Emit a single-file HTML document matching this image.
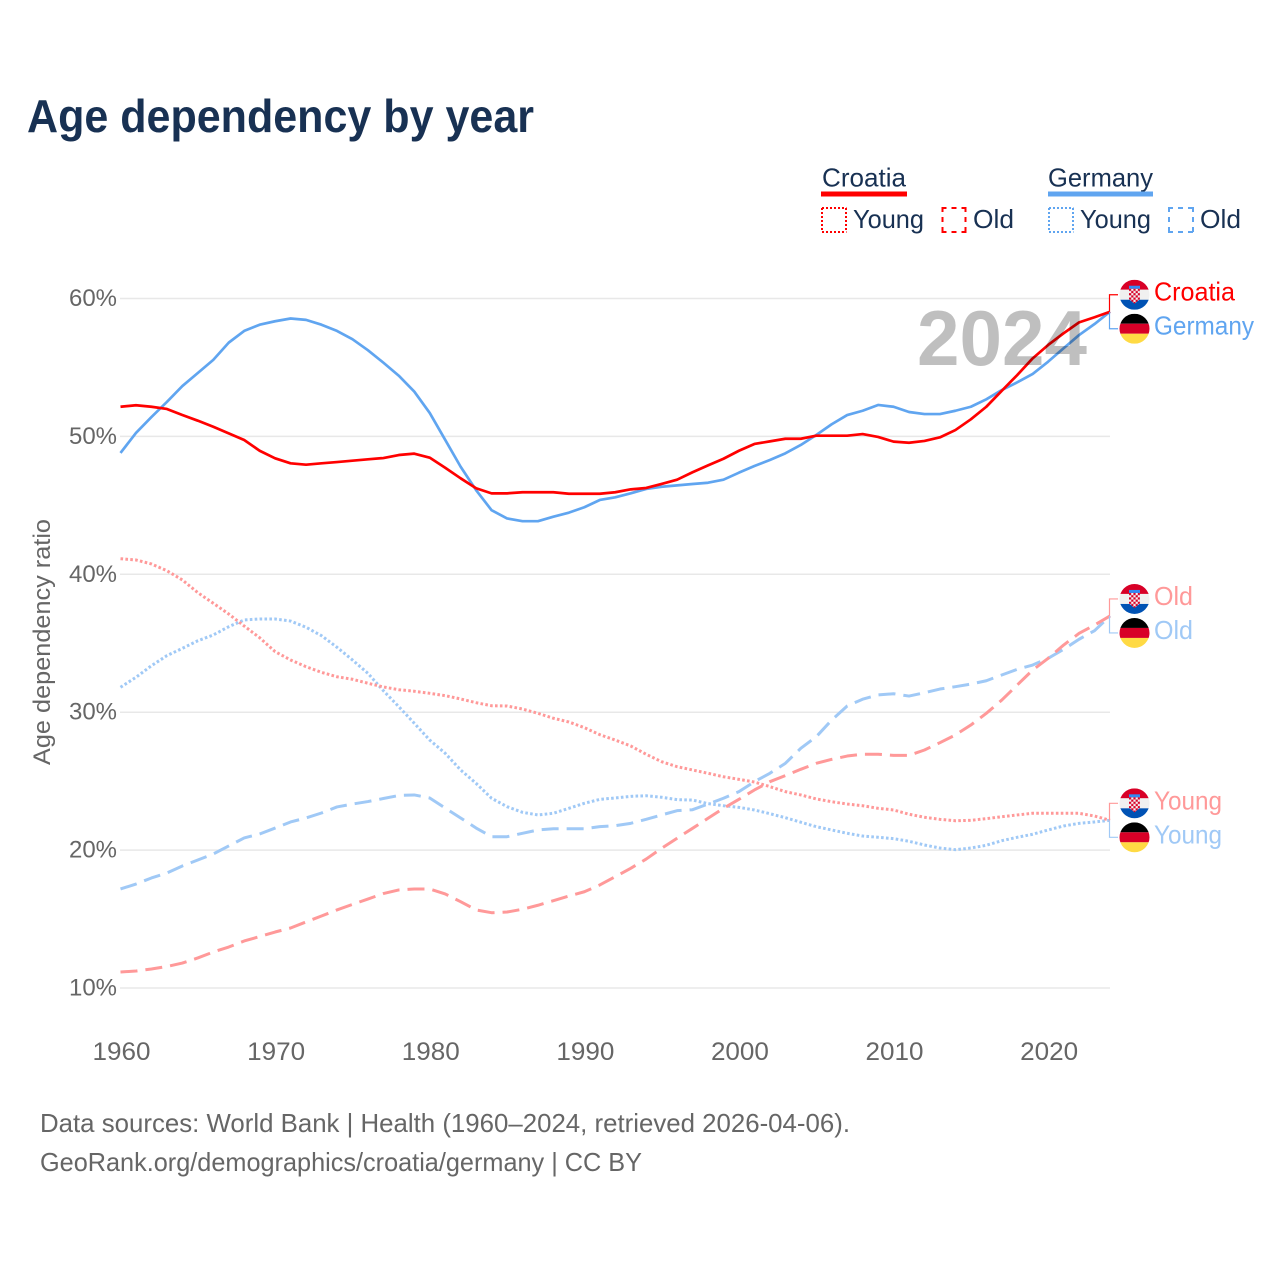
<!DOCTYPE html>
<html lang="en">
<head>
<meta charset="utf-8">
<title>Age dependency by year</title>
<style>
html,body{margin:0;padding:0;background:#fff;}
svg{display:block;font-family:"Liberation Sans",Arial,sans-serif;}
</style>
</head>
<body>
<svg id="chart" xmlns="http://www.w3.org/2000/svg" width="1280" height="1280" viewBox="0 0 1280 1280">
  <defs>
    <clipPath id="flag-clip"><circle cx="0" cy="0" r="15"></circle></clipPath>
    <pattern id="checker" x="-5.5" y="-6" width="4.4" height="4.4" patternUnits="userSpaceOnUse">
      <rect width="4.4" height="4.4" fill="#f4f4f4"></rect>
      <rect width="2.2" height="2.2" fill="#d80027"></rect>
      <rect x="2.2" y="2.2" width="2.2" height="2.2" fill="#d80027"></rect>
    </pattern>
    <symbol id="flag-croatia" viewBox="-15 -15 30 30" overflow="visible">
      <g clip-path="url(#flag-clip)">
        <rect x="-15" y="-15" width="30" height="10" fill="#d80027"></rect>
        <rect x="-15" y="-5" width="30" height="10" fill="#f0f0f0"></rect>
        <rect x="-15" y="5" width="30" height="10" fill="#0052b4"></rect>
        <rect x="-5.5" y="-9" width="11" height="3" fill="#338af3"></rect>
        <path d="M-5.5,-6H5.5V4.5L0,9L-5.5,4.5Z" fill="url(#checker)"></path>
      </g>
    </symbol>
    <symbol id="flag-germany" viewBox="-15 -15 30 30" overflow="visible">
      <g clip-path="url(#flag-clip)">
        <rect x="-15" y="-15" width="30" height="10" fill="#000000"></rect>
        <rect x="-15" y="-5" width="30" height="10" fill="#d80027"></rect>
        <rect x="-15" y="5" width="30" height="10" fill="#ffda44"></rect>
      </g>
    </symbol>
  </defs>

  <text x="27" y="132" font-size="46" font-weight="700" fill="#183153" textLength="507" lengthAdjust="spacingAndGlyphs">Age dependency by year</text>

  <g>
    <g>
      <text x="822" y="186.5" font-size="26" fill="#183153" textLength="84" lengthAdjust="spacingAndGlyphs">Croatia</text>
      <rect x="821" y="191.5" width="86" height="5" fill="#ff0000"></rect>
    </g>
    <g>
      <path d="M822,208H846.5M822,232H846.5M822,208V232M846,208V232" fill="none" stroke="#ff0000" stroke-width="2" stroke-dasharray="2 2"></path>
      <text x="853" y="228" font-size="26" fill="#183153" textLength="71" lengthAdjust="spacingAndGlyphs">Young</text>
    </g>
    <g>
      <path d="M941.5,208H966.5M941.5,232H966.5M942.5,207V233M965.5,207V233" fill="none" stroke="#ff0000" stroke-width="2" stroke-dasharray="5 5"></path>
      <text x="973" y="228" font-size="26" fill="#183153" textLength="41" lengthAdjust="spacingAndGlyphs">Old</text>
    </g>
    <g>
      <text x="1048" y="186.5" font-size="26" fill="#183153" textLength="105" lengthAdjust="spacingAndGlyphs">Germany</text>
      <rect x="1048" y="191.5" width="105" height="5" fill="#60a5f0"></rect>
    </g>
    <g>
      <path d="M1049,208H1073.5M1049,232H1073.5M1049,208V232M1073,208V232" fill="none" stroke="#60a5f0" stroke-width="2" stroke-dasharray="2 2"></path>
      <text x="1080" y="228" font-size="26" fill="#183153" textLength="71" lengthAdjust="spacingAndGlyphs">Young</text>
    </g>
    <g>
      <path d="M1168,208H1193.5M1168,232H1193.5M1169,207V233M1193,207V233" fill="none" stroke="#60a5f0" stroke-width="2" stroke-dasharray="5 5"></path>
      <text x="1200" y="228" font-size="26" fill="#183153" textLength="41" lengthAdjust="spacingAndGlyphs">Old</text>
    </g>
  </g>

  <g id="grid"></g>
  <g id="yticks"></g>
  <g id="xticks"></g>
  <text transform="translate(50,765) rotate(-90)" x="0" y="0" font-size="24" fill="#666666" textLength="246" lengthAdjust="spacingAndGlyphs">Age dependency ratio</text>

  <g id="series"></g>
  <g id="endlabels"></g>

  <text x="917" y="365" font-size="78" font-weight="700" fill="#000000" fill-opacity="0.25" textLength="170" lengthAdjust="spacingAndGlyphs">2024</text>

  <text x="40" y="1132" font-size="26" fill="#666666" textLength="810" lengthAdjust="spacingAndGlyphs">Data sources: World Bank | Health (1960–2024, retrieved 2026-04-06).</text>
  <text x="40" y="1171" font-size="26" fill="#666666" textLength="602" lengthAdjust="spacingAndGlyphs">GeoRank.org/demographics/croatia/germany | CC BY</text>
</svg>

<script>
const years = [1960,1961,1962,1963,1964,1965,1966,1967,1968,1969,
  1970,1971,1972,1973,1974,1975,1976,1977,1978,1979,
  1980,1981,1982,1983,1984,1985,1986,1987,1988,1989,
  1990,1991,1992,1993,1994,1995,1996,1997,1998,1999,
  2000,2001,2002,2003,2004,2005,2006,2007,2008,2009,
  2010,2011,2012,2013,2014,2015,2016,2017,2018,2019,
  2020,2021,2022,2023,2024];

const croatiaTotal = [52.15,52.26,52.15,51.99,51.55,51.14,50.7,50.22,49.74,48.96,
  48.41,48.05,47.95,48.05,48.14,48.24,48.34,48.43,48.65,48.75,
  48.46,47.73,46.96,46.24,45.87,45.87,45.95,45.95,45.95,45.84,
  45.84,45.84,45.95,46.16,46.26,46.55,46.86,47.4,47.9,48.38,
  48.96,49.45,49.64,49.83,49.83,50.05,50.05,50.05,50.17,49.96,
  49.62,49.54,49.67,49.93,50.46,51.24,52.15,53.31,54.45,55.66,
  56.63,57.48,58.27,58.64,59.04];

const germanyTotal = [48.8,50.25,51.4,52.5,53.65,54.6,55.55,56.8,57.65,58.1,
  58.35,58.55,58.45,58.1,57.65,57.05,56.25,55.35,54.4,53.25,
  51.7,49.75,47.8,46.1,44.65,44.05,43.85,43.85,44.18,44.47,
  44.86,45.39,45.58,45.87,46.19,46.35,46.45,46.55,46.64,46.86,
  47.37,47.85,48.29,48.77,49.38,50.1,50.88,51.55,51.86,52.28,
  52.15,51.77,51.62,51.62,51.86,52.15,52.69,53.36,53.92,54.53,
  55.42,56.39,57.35,58.15,59.04];

const croatiaYoung = [41.13,41.04,40.75,40.26,39.59,38.67,37.9,37.12,36.25,35.4,
  34.39,33.79,33.3,32.89,32.57,32.39,32.1,31.83,31.63,31.52,
  31.37,31.2,30.96,30.69,30.47,30.45,30.23,29.92,29.56,29.29,
  28.88,28.37,27.98,27.55,26.95,26.41,26.05,25.81,25.57,25.32,
  25.13,24.94,24.6,24.24,24,23.71,23.51,23.34,23.22,23.03,
  22.91,22.6,22.38,22.23,22.13,22.16,22.28,22.42,22.55,22.67,
  22.67,22.67,22.67,22.47,22.16];

const germanyYoung = [31.81,32.53,33.37,34.1,34.63,35.18,35.6,36.2,36.69,36.76,
  36.76,36.61,36.16,35.55,34.71,33.79,32.82,31.56,30.4,29.2,
  27.98,27.02,25.81,24.84,23.76,23.15,22.74,22.55,22.67,23.03,
  23.39,23.68,23.78,23.9,23.94,23.83,23.66,23.63,23.37,23.22,
  23.1,22.91,22.64,22.35,22.02,21.7,21.46,21.22,21.02,20.93,
  20.83,20.64,20.37,20.15,20.03,20.15,20.35,20.68,20.93,21.15,
  21.46,21.75,21.94,22.04,22.16];

const croatiaOld = [11.16,11.23,11.38,11.56,11.81,12.18,12.61,12.97,13.41,13.73,
  14.06,14.35,14.79,15.22,15.66,16.06,16.45,16.85,17.11,17.18,
  17.18,16.82,16.26,15.66,15.46,15.51,15.71,16,16.33,16.67,
  16.98,17.47,18.07,18.68,19.35,20.13,20.86,21.58,22.31,23.03,
  23.68,24.36,24.96,25.4,25.86,26.29,26.58,26.82,26.95,26.95,
  26.87,26.87,27.26,27.79,28.35,29.07,29.92,30.88,31.97,33.06,
  33.91,34.87,35.72,36.32,36.98];

const germanyOld = [17.18,17.54,17.98,18.34,18.85,19.28,19.72,20.3,20.88,21.17,
  21.6,22.04,22.33,22.69,23.13,23.34,23.52,23.74,23.96,24,
  23.78,23.05,22.33,21.6,20.97,20.97,21.22,21.46,21.55,21.55,
  21.55,21.7,21.77,21.94,22.23,22.55,22.86,22.93,23.34,23.76,
  24.24,24.96,25.57,26.29,27.38,28.22,29.43,30.45,30.94,31.25,
  31.34,31.17,31.41,31.68,31.85,32.04,32.28,32.7,33.11,33.42,
  33.91,34.56,35.29,35.91,36.98];

const yTickValues = [10,20,30,40,50,60];
const xTickValues = [1960,1970,1980,1990,2000,2010,2020];

const SVG_NS = 'http://www.w3.org/2000/svg';
const RED = '#ff0000';
const BLUE = '#60a5f0';
const LIGHT_RED = '#ff9999';
const LIGHT_BLUE = '#a0c9f6';

function xScale(year) { return 120.5 + (year - 1960) * (1110 - 120.5) / 64; }
function yScale(value) { return 988 - (value - 10) * 13.79; }

function make(tag, attrs, parent) {
  const el = document.createElementNS(SVG_NS, tag);
  for (const key in attrs) el.setAttribute(key, attrs[key]);
  parent.appendChild(el);
  return el;
}

const gridLayer = document.getElementById('grid');
const yTickLayer = document.getElementById('yticks');
const xTickLayer = document.getElementById('xticks');
const seriesLayer = document.getElementById('series');
const endLayer = document.getElementById('endlabels');

yTickValues.forEach(function (tick) {
  const y = yScale(tick);
  const line = make('line', {x1: 120, x2: 1110, y1: y, y2: y, stroke: '#e8e8e8', 'stroke-width': 1.5}, gridLayer);
  
  
  const label = make('text', {x: 117, y: y + 7.5, 'text-anchor': 'end', 'font-size': 24.5, fill: '#666666', textLength: 48, lengthAdjust: 'spacingAndGlyphs'}, yTickLayer);
  label.textContent = tick + '%';
  
  
});

xTickValues.forEach(function (tick) {
  const label = make('text', {x: xScale(tick) + 1, y: 1060, 'text-anchor': 'middle', 'font-size': 25, fill: '#666666', textLength: 58, lengthAdjust: 'spacingAndGlyphs'}, xTickLayer);
  label.textContent = tick;
  
  
});

function pathFor(values) {
  return values.map(function (v, i) {
    return (i ? 'L' : 'M') + xScale(years[i]).toFixed(2) + ',' + yScale(v).toFixed(2);
  }).join('');
}

function drawLine(values, color, dash, width, name) {
  const attrs = {d: pathFor(values), fill: 'none', stroke: color, 'stroke-width': width, 'stroke-linejoin': 'round'};
  if (dash) attrs['stroke-dasharray'] = dash;
  const line = make('path', attrs, seriesLayer);
  
  
}

drawLine(germanyYoung, LIGHT_BLUE, '2.6 2.3', 3, 'germany-young-line');
drawLine(croatiaYoung, LIGHT_RED, '2.6 2.3', 3, 'croatia-young-line');
drawLine(germanyOld, LIGHT_BLUE, '17 8', 3, 'germany-old-line');
drawLine(croatiaOld, LIGHT_RED, '17 8', 3, 'croatia-old-line');
drawLine(germanyTotal, BLUE, null, 2.7, 'germany-total-line');
drawLine(croatiaTotal, RED, null, 2.7, 'croatia-total-line');

function endLabel(values, text, color, flag, side, textLen, name) {
  const endY = yScale(values[values.length - 1]);
  const rowY = endY + side * 17;
  const connector = make('path', {d: 'M1109.5,' + endY.toFixed(2) + 'V' + rowY.toFixed(2) + 'H1118', fill: 'none', stroke: color, 'stroke-width': 1.2}, endLayer);
  
  
  const icon = make('use', {href: '#' + flag, x: 1119.5, y: rowY - 15, width: 30, height: 30}, endLayer);
  
  
  const label = make('text', {x: 1154, y: rowY + 6, 'font-size': 26, fill: color, textLength: textLen, lengthAdjust: 'spacingAndGlyphs'}, endLayer);
  label.textContent = text;
  
  
}

endLabel(germanyYoung, 'Young', LIGHT_BLUE, 'flag-germany', 1, 68, 'germany-young-end');
endLabel(croatiaYoung, 'Young', LIGHT_RED, 'flag-croatia', -1, 68, 'croatia-young-end');
endLabel(germanyOld, 'Old', LIGHT_BLUE, 'flag-germany', 1, 39, 'germany-old-end');
endLabel(croatiaOld, 'Old', LIGHT_RED, 'flag-croatia', -1, 39, 'croatia-old-end');
endLabel(germanyTotal, 'Germany', BLUE, 'flag-germany', 1, 100, 'germany-total-end');
endLabel(croatiaTotal, 'Croatia', RED, 'flag-croatia', -1, 81, 'croatia-total-end');
</script>
</body>
</html>
